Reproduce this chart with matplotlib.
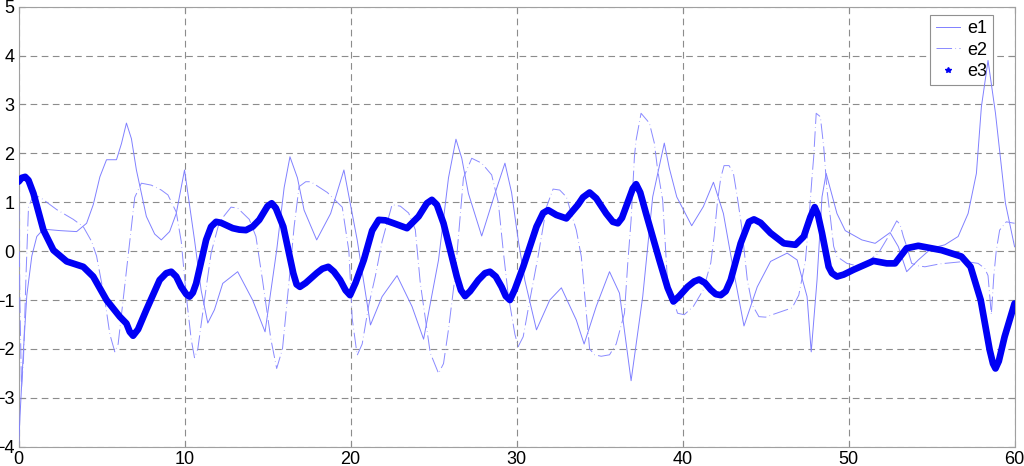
import matplotlib.pyplot as plt
from matplotlib.lines import Line2D

plt.rcParams['font.family'] = ['Liberation Sans', 'DejaVu Sans']

# e1 - thin solid
e1_x = [0, 0.1, 0.3, 0.5, 0.8, 1.1, 1.5, 2.5, 3.5, 4.1, 4.5, 4.9, 5.3, 5.9, 6.2, 6.5, 6.8, 7.1, 7.7, 8.2,
        8.6, 9.1, 9.5, 10.0, 10.6, 11.0, 11.4, 11.8, 12.3, 13.2, 14.1, 14.85, 15.55, 16.0, 16.35, 16.8, 17.2,
        17.96, 18.8, 19.6, 20.4, 21.2, 21.9, 22.8, 23.7, 24.4, 25.3, 25.9, 26.35, 26.7, 27.1, 27.9, 28.7,
        29.3, 29.7, 30.1, 30.5, 31.2, 32.0, 32.7, 33.6, 34.07, 34.8, 35.6, 36.2, 36.9, 37.6, 38.2, 38.9,
        39.2, 39.65, 40.55, 41.25, 41.86, 42.46, 43.06, 43.7, 44.5, 45.3, 46.3, 46.9, 47.5, 47.75, 48.1,
        48.4, 48.65, 49.3, 49.8, 50.8, 51.6, 52.5, 53.0, 53.5, 54.2, 55.0, 55.8, 56.6, 57.2, 57.7, 58.0,
        58.4, 58.85, 59.45, 60]
e1_y = [-4.0, -3.3, -2.0, -0.9, -0.1, 0.3, 0.45, 0.42, 0.40, 0.57, 0.95, 1.52, 1.87, 1.87, 2.2, 2.62, 2.3,
        1.66, 0.71, 0.35, 0.23, 0.4, 0.77, 1.66, 0.23, -0.8, -1.47, -1.2, -0.66, -0.42, -1.0, -1.65, 0.02,
        1.3, 1.93, 1.5, 0.84, 0.23, 0.77, 1.66, 0.23, -1.51, -0.93, -0.50, -1.13, -1.80, -0.18, 1.5, 2.29,
        1.9, 1.18, 0.31, 1.18, 1.80, 1.2, 0.23, -0.6, -1.61, -1.0, -0.75, -1.41, -1.90, -1.13, -0.42,
        -0.86, -2.65, -0.93, 1.11, 2.21, 1.7, 1.11, 0.52, 0.91, 1.41, 0.77, -0.38, -1.53, -0.73, -0.21,
        -0.04, -0.18, -0.93, -2.06, -0.59, 1.11, 1.59, 0.77, 0.42, 0.23, 0.16, 0.38, 0.09, -0.42, -0.18,
        0.06, 0.13, 0.30, 0.77, 1.59, 2.95, 3.9, 2.82, 0.98, 0.09]

# e2 - thin dash-dot
e2_x = [0, 0.08, 0.18, 0.3, 0.45, 0.6, 0.9, 1.3, 2.3, 3.3, 3.9, 4.4, 4.7, 5.2, 5.5, 5.8, 6.0, 6.3, 6.7, 7.0,
        7.4, 8.0, 8.6, 9.0, 9.5, 9.8, 10.1, 10.4, 10.6, 10.8, 11.2, 11.6, 12.1, 12.8, 13.2, 13.9, 14.3,
        14.7, 15.2, 15.55, 15.9, 16.3, 16.6, 16.9, 17.3, 17.6, 18.6, 19.5, 19.9, 20.1, 20.4, 20.7, 21.1,
        21.5, 21.9, 22.5, 23.0, 23.5, 23.9, 24.2, 24.8, 25.3, 25.6, 25.9, 26.3, 26.5, 26.8, 27.3, 27.9,
        28.5, 28.9, 29.2, 29.5, 29.9, 30.1, 30.4, 30.8, 31.3, 31.8, 32.2, 32.6, 33.0, 33.6, 33.9, 34.1,
        34.4, 34.7, 35.1, 35.6, 36.0, 36.5, 36.7, 36.9, 37.1, 37.2, 37.5, 38.0, 38.3, 38.5, 38.8, 39.1,
        39.7, 40.1, 40.65, 41.25, 41.7, 41.9, 42.1, 42.3, 42.5, 42.8, 43.06, 43.3, 43.56, 43.9, 44.2,
        44.6, 45.0, 45.4, 46.6, 47.0, 47.4, 47.6, 47.8, 47.9, 48.05, 48.3, 48.5, 48.7, 48.9, 49.1, 49.3,
        49.9, 50.5, 51.2, 51.8, 52.4, 52.9, 53.1, 53.3, 53.5, 53.8, 54.2, 54.6, 55.5, 57.0, 57.8, 58.2,
        58.4, 58.6, 58.75, 58.9, 59.1, 59.5, 60]
e2_y = [1.4, -1.0, -2.8, -2.2, -0.5, 0.9, 1.15, 1.1, 0.85, 0.65, 0.5, 0.2, -0.1, -1.0, -1.7, -2.06, -1.9,
        -1.0, 0.2, 1.1, 1.39, 1.35, 1.25, 1.15, 0.8, 0.2, -0.9, -1.8, -2.18, -2.0, -1.0, -0.04, 0.6, 0.9,
        0.88, 0.65, 0.3, -0.6, -1.8, -2.4, -2.0, -0.6, 0.5, 1.32, 1.42, 1.42, 1.2, 0.9, 0.0, -1.38, -2.13,
        -1.9, -1.1, -0.5, 0.2, 0.95, 0.92, 0.78, 0.44, -0.65, -2.08, -2.5, -2.3, -1.6, -0.5, 0.3, 1.5,
        1.9, 1.8, 1.56, 1.0, 0.0, -0.9, -1.7, -1.95, -1.75, -1.0, -0.1, 0.9, 1.27, 1.25, 1.11, 0.43, -0.11,
        -0.88, -2.0, -2.12, -2.15, -2.12, -1.9, -1.27, -0.24, 0.64, 1.93, 2.27, 2.82, 2.62, 2.21, 1.66,
        1.05, -0.66, -1.27, -1.3, -1.13, -0.79, -0.24, 0.3, 1.0, 1.5, 1.75, 1.75, 1.6, 1.1, 0.5, -0.59,
        -1.1, -1.34, -1.35, -1.3, -1.16, -0.9, -0.2, 0.6, 1.52, 1.93, 2.82, 2.75, 2.14, 1.25, 0.7, 0.1,
        -0.11, -0.25, -0.3, -0.2, -0.04, 0.3, 0.62, 0.55, 0.3, 0.1, -0.25, -0.3, -0.32, -0.26, -0.21,
        -0.25, -0.35, -0.5, -1.3, -0.5, 0.02, 0.43, 0.6, 0.57]

# e3 - thick
e3_x = [0, 0.2, 0.4, 0.6, 0.9, 1.5, 2.1, 2.9, 3.9, 4.5, 5.3, 6.1, 6.5, 6.7, 6.9, 7.2, 7.7, 8.5, 8.9, 9.2,
        9.5, 9.8, 10.1, 10.3, 10.5, 10.7, 11.3, 11.6, 11.9, 12.2, 12.9, 13.3, 13.7, 14.1, 14.5, 15.0,
        15.25, 15.5, 15.95, 16.55, 16.75, 16.95, 17.3, 17.96, 18.3, 18.66, 19.0, 19.37, 19.7, 19.97, 20.3,
        20.8, 21.3, 21.7, 22.1, 22.6, 23.4, 24.1, 24.6, 24.9, 25.2, 25.6, 26.4, 26.65, 26.9, 27.2, 27.7,
        28.1, 28.4, 28.75, 29.1, 29.35, 29.6, 29.9, 30.4, 31.2, 31.6, 31.9, 32.4, 33.0, 33.7, 34.0, 34.4,
        34.8, 35.4, 35.8, 36.1, 36.35, 36.6, 37.0, 37.2, 37.45, 37.8, 38.6, 39.1, 39.45, 39.8, 40.3,
        40.7, 41.0, 41.35, 41.7, 42.0, 42.3, 42.6, 42.9, 43.5, 44.0, 44.3, 44.7, 45.3, 46.1, 46.8, 47.3,
        47.7, 47.96, 48.15, 48.4, 48.8, 49.0, 49.3, 49.7, 50.3, 51.5, 52.3, 52.8, 53.5, 54.2, 55.6, 56.8,
        57.35, 57.96, 58.5, 58.7, 58.85, 59.05, 59.4, 60]
e3_y = [1.42, 1.5, 1.52, 1.45, 1.18, 0.43, 0.02, -0.21, -0.32, -0.52, -1.0, -1.34, -1.48, -1.65, -1.73,
        -1.6, -1.2, -0.59, -0.45, -0.42, -0.52, -0.73, -0.88, -0.93, -0.85, -0.66, 0.23, 0.5, 0.60, 0.58,
        0.47, 0.44, 0.43, 0.5, 0.64, 0.92, 0.98, 0.88, 0.50, -0.45, -0.68, -0.73, -0.65, -0.45, -0.36,
        -0.32, -0.42, -0.59, -0.8, -0.9, -0.65, -0.18, 0.42, 0.64, 0.63, 0.57, 0.47, 0.71, 0.98, 1.05,
        0.95, 0.57, -0.52, -0.8, -0.92, -0.82, -0.59, -0.45, -0.42, -0.52, -0.73, -0.92, -1.0, -0.78,
        -0.32, 0.50, 0.78, 0.84, 0.74, 0.67, 0.95, 1.1, 1.2, 1.08, 0.77, 0.6, 0.57, 0.68, 0.91, 1.28,
        1.37, 1.2, 0.77, -0.18, -0.75, -1.03, -0.92, -0.73, -0.62, -0.58, -0.65, -0.79, -0.88, -0.9,
        -0.82, -0.59, 0.16, 0.6, 0.65, 0.58, 0.37, 0.16, 0.13, 0.30, 0.7, 0.90, 0.75, 0.37, -0.32, -0.45,
        -0.52, -0.48, -0.38, -0.20, -0.25, -0.25, 0.06, 0.11, 0.02, -0.11, -0.32, -1.0, -2.02, -2.3,
        -2.40, -2.25, -1.75, -1.07]

fig = plt.figure(figsize=(10.24, 4.66), dpi=100)
ax = fig.add_axes([0.0181, 0.0414, 0.9727, 0.9442])

l1, = ax.plot(e1_x, e1_y, color='#8080ff', lw=0.7, zorder=3)
l2, = ax.plot(e2_x, e2_y, color='#8a8aff', lw=0.7, dashes=(16, 3.5, 0.6, 3.5), zorder=3)
ax.plot(e3_x, e3_y, color='#0000f5', lw=4.8, solid_joinstyle='round', solid_capstyle='round', zorder=4)
p3 = Line2D([], [], color='#0000f5', marker='*', ls='none', markersize=4)

ax.set_xlim(0, 60)
ax.set_ylim(-4, 5)
ax.set_xticks(range(0, 61, 10))
ax.set_yticks(range(-4, 6))
ax.grid(True, color='#8c8c8c', lw=0.8, dashes=(6, 4))
ax.tick_params(direction='in', length=4, color='#8c8c8c', labelsize=13, pad=3,
               top=True, right=True)
for s in ax.spines.values():
    s.set_color('#a0a0a0')

leg = ax.legend([l1, l2, p3], ['e1', 'e2', 'e3'], loc='upper right', fontsize=13,
                bbox_to_anchor=(0.978, 0.982), fancybox=False, edgecolor='#909090',
                framealpha=1, handlelength=1.35, handletextpad=0.4, borderpad=0.3,
                labelspacing=0.25, borderaxespad=0)
leg.get_frame().set_linewidth(0.8)
leg.set_zorder(2.5)

fig.savefig('out.png', dpi=100)
